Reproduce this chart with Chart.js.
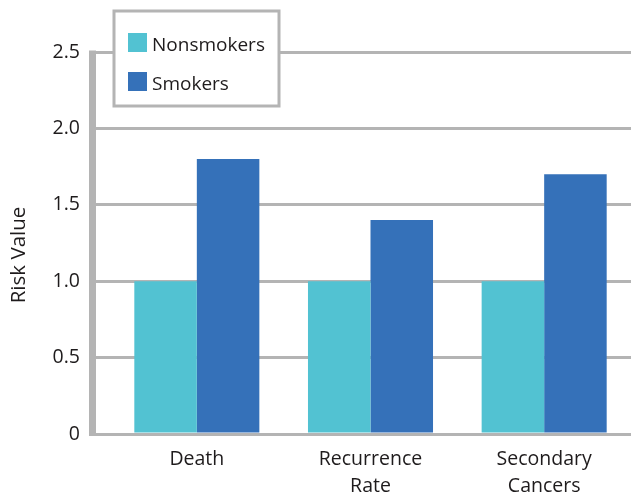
<!DOCTYPE html>
<html>
<head>
<meta charset="utf-8">
<script src="https://cdn.jsdelivr.net/npm/chart.js@4/dist/chart.umd.min.js"></script>
<style>
  html, body { margin: 0; padding: 0; background: #fff; }
  #wrap { width: 631px; height: 495px; }
</style>
</head>
<body>
<div id="wrap"><canvas id="c" width="631" height="495"></canvas></div>
<script>
// Relative risk values by outcome
const categories = [["Death"], ["Recurrence", "Rate"], ["Secondary", "Cancers"]];
const seriesNames = ["Nonsmokers", "Smokers"];
const nonsmokers = [1.0, 1.0, 1.0];
const smokers = [1.8, 1.4, 1.7];
const yTicks = [0, 0.5, 1.0, 1.5, 2.0, 2.5];
const yTitle = "Risk Value";

const colors = ["#52c2d2", "#3571b9"];
const gridGray = "#b4b4b4";
const textColor = "#1e1b1c";
const FONT = "'Open Sans', 'Noto Sans', sans-serif";

// Thick vertical axis bar, rotated axis title and the boxed legend
const decorations = {
  id: "decorations",
  afterDraw(chart) {
    const ctx = chart.ctx;
    const y = chart.scales.y;
    const top = y.getPixelForValue(yTicks[yTicks.length - 1]);
    const bottom = y.getPixelForValue(0);
    ctx.save();
    ctx.fillStyle = gridGray;
    ctx.fillRect(89, top - 1.5, 7, bottom - top + 3);

    // axis title
    ctx.save();
    ctx.translate(25, 255);
    ctx.rotate(-Math.PI / 2);
    ctx.font = "20.5px " + FONT;
    ctx.fillStyle = textColor;
    ctx.textAlign = "center";
    ctx.textBaseline = "alphabetic";
    ctx.fillText(yTitle, 0, 0);
    ctx.restore();

    // legend box
    const bx = 114, by = 11, bw = 165, bh = 95;
    ctx.fillStyle = "#fff";
    ctx.fillRect(bx, by, bw, bh);
    ctx.strokeStyle = gridGray;
    ctx.lineWidth = 3;
    ctx.strokeRect(bx, by, bw, bh);

    ctx.font = "19px " + FONT;
    ctx.textBaseline = "alphabetic";
    ctx.textAlign = "left";
    chart.data.datasets.forEach((ds, i) => {
      const base = 51 + i * 39;
      ctx.fillStyle = ds.backgroundColor;
      ctx.fillRect(128, base - 18, 19, 19);
      ctx.fillStyle = textColor;
      ctx.fillText(ds.label, 152, base);
    });
    ctx.restore();
  }
};

new Chart(document.getElementById("c"), {
  type: "bar",
  data: {
    labels: categories,
    datasets: [
      { label: seriesNames[0], data: nonsmokers, backgroundColor: colors[0] },
      { label: seriesNames[1], data: smokers, backgroundColor: colors[1] }
    ]
  },
  options: {
    responsive: false,
    animation: false,
    devicePixelRatio: 1,
    layout: { padding: { top: 52, right: 0, left: 0, bottom: 0 } },
    plugins: { legend: { display: false }, tooltip: { enabled: false } },
    datasets: { bar: { categoryPercentage: 0.72, barPercentage: 1.0, borderWidth: 0 } },
    scales: {
      x: {
        grid: { display: false, drawTicks: false },
        border: { display: false },
        ticks: { color: textColor, font: { family: FONT, size: 19.5, lineHeight: 1.385 }, padding: 12, maxRotation: 0 },
        afterFit(scale) { scale.height = 61; }
      },
      y: {
        min: 0, max: 2.5,
        afterBuildTicks(scale) { scale.ticks = yTicks.map(v => ({ value: v })); },
        grid: { color: gridGray, lineWidth: 3, tickLength: 21, drawTicks: true, tickColor: gridGray, tickWidth: 3 },
        border: { display: false },
        ticks: {
          color: textColor,
          font: { family: FONT, size: 19.5 },
          padding: 9,
          callback: v => (v === 0 ? "0" : Number(v).toFixed(1))
        },
        afterFit(scale) { scale.width = 110; }
      }
    }
  },
  plugins: [decorations]
});
</script>
</body>
</html>
